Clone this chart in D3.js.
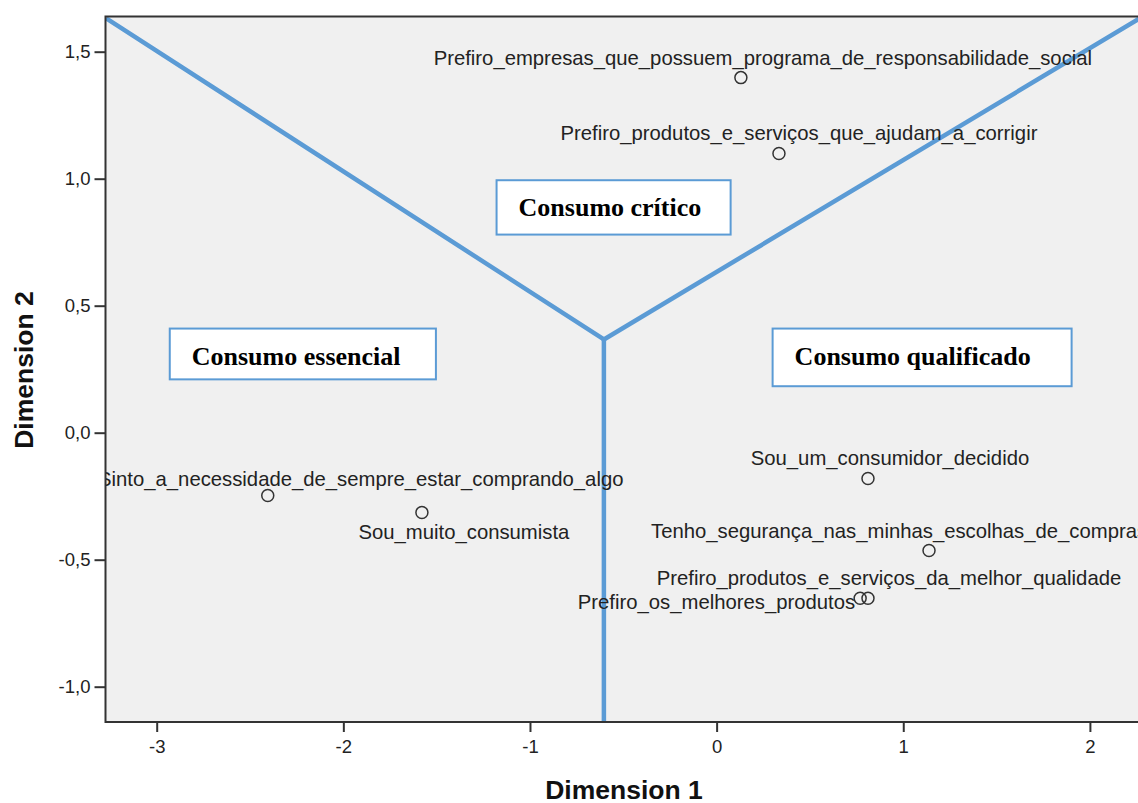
<!DOCTYPE html>
<html>
<head>
<meta charset="utf-8">
<script src="https://cdn.jsdelivr.net/npm/d3@7"></script>
<style>
  body { margin: 0; background: #fff; }
  svg { display: block; }
</style>
</head>
<body>
<script>
// data: coordenadas das categorias (Dimension 1, Dimension 2)
const labels = [
  'Prefiro_empresas_que_possuem_programa_de_responsabilidade_social',
  'Prefiro_produtos_e_serviços_que_ajudam_a_corrigir',
  'Sinto_a_necessidade_de_sempre_estar_comprando_algo',
  'Sou_muito_consumista',
  'Sou_um_consumidor_decidido',
  'Tenho_segurança_nas_minhas_escolhas_de_compras',
  'Prefiro_produtos_e_serviços_da_melhor_qualidade',
  'Prefiro_os_melhores_produtos'
]
const dim1 = [0.13, 0.334, -2.405, -1.579, 0.811, 1.138, 0.811, 0.769]
const dim2 = [1.398, 1.099, -0.247, -0.314, -0.180, -0.464, -0.652, -0.652]

const xTicks = [-3, -2, -1, 0, 1, 2]
const yTicks = [-1.0, -0.5, 0.0, 0.5, 1.0, 1.5]

// grupos (caixas de texto) e as linhas que separam as regiões
const groupNames = ['Consumo essencial', 'Consumo crítico', 'Consumo qualificado']
const groupX = [[-2.930, -1.504], [-1.179, 0.075], [0.300, 1.902]]
const groupY = [[0.410, 0.210], [0.994, 0.780], [0.410, 0.183]]

const vertex = [-0.604, 0.367]
const armEnds = [[-3.262, 1.627], [2.257, 1.627], [-0.604, -1.2]]

// layout van de labels: anchor, dx, dy (px)
const labelLayout = [
  ['middle', 22, -13],
  ['middle', 20, -14],
  ['middle', 93, -9],
  ['middle', 42, 27],
  ['middle', 22, -13],
  ['start', -278, -13],
  ['middle', 21, -13],
  ['end', -5, 11]
]

const W = 1138, H = 803
const plot = { left: 105.5, top: 16.5, right: 1146, bottom: 722 }

const svg = d3.select('body').append('svg').attr('width', W).attr('height', H)
  .style('font-family', 'Arial, "Liberation Sans", sans-serif')

const x = d3.scaleLinear().domain([-3, 2]).range([156.7, 1089.9])
const y = d3.scaleLinear().domain([-1, 1.5]).range([686.7, 51.7])

const fmt = d => d3.format('.1f')(d).replace('.', ',').replace('−', '-')

svg.append('defs').append('clipPath').attr('id', 'clip')
  .append('rect')
  .attr('x', plot.left).attr('y', plot.top)
  .attr('width', plot.right - plot.left).attr('height', plot.bottom - plot.top)

svg.append('rect')
  .attr('x', plot.left).attr('y', plot.top)
  .attr('width', plot.right - plot.left).attr('height', plot.bottom - plot.top)
  .attr('fill', '#f0f0f0')

// assen
const gx = svg.append('g').attr('transform', `translate(0,${plot.bottom})`)
  .call(d3.axisBottom(x).tickValues(xTicks).tickSize(10).tickPadding(8).tickFormat(d3.format('d')))
const gy = svg.append('g').attr('transform', `translate(${plot.left},0)`)
  .call(d3.axisLeft(y).tickValues(yTicks).tickSize(11).tickPadding(4).tickFormat(fmt))

gx.select('.domain').remove()
gy.select('.domain').remove()
gx.selectAll('.tick line').attr('stroke', '#333').attr('stroke-width', 2)
gy.selectAll('.tick line').attr('stroke', '#333').attr('stroke-width', 2)
gx.selectAll('.tick text').attr('font-size', 18.5).attr('fill', '#222')
  .attr('font-family', 'Arial, "Liberation Sans", sans-serif')
  .text(d => d3.format('d')(d).replace('−', '-'))
gy.selectAll('.tick text').attr('font-size', 18.5).attr('fill', '#222')
  .attr('font-family', 'Arial, "Liberation Sans", sans-serif')

const inner = svg.append('g').attr('clip-path', 'url(#clip)')

// lijnen (Y-vorm)
inner.selectAll('line.arm')
  .data(armEnds)
  .join('line')
  .attr('class', 'arm')
  .attr('x1', x(vertex[0])).attr('y1', y(vertex[1]))
  .attr('x2', d => x(d[0])).attr('y2', d => y(d[1]))
  .attr('stroke', '#5b9bd5').attr('stroke-width', 4.5).attr('stroke-linecap', 'round')

// caixas
const groups = inner.selectAll('g.group')
  .data(groupNames)
  .join('g')
  .attr('class', 'group')

groups.append('rect')
  .attr('x', (d, i) => x(groupX[i][0]))
  .attr('y', (d, i) => y(groupY[i][0]))
  .attr('width', (d, i) => x(groupX[i][1]) - x(groupX[i][0]))
  .attr('height', (d, i) => y(groupY[i][1]) - y(groupY[i][0]))
  .attr('fill', '#fff').attr('stroke', '#5b9bd5').attr('stroke-width', 2)

groups.append('text')
  .attr('x', (d, i) => x(groupX[i][0]) + 22)
  .attr('y', (d, i) => y(groupY[i][0]) + 36)
  .attr('font-family', '"Liberation Serif", "Times New Roman", serif')
  .attr('font-weight', 'bold').attr('font-size', 26)
  .attr('fill', '#000')
  .text(d => d)

// punten
inner.selectAll('circle.pt')
  .data(labels)
  .join('circle')
  .attr('class', 'pt')
  .attr('cx', (d, i) => x(dim1[i])).attr('cy', (d, i) => y(dim2[i]))
  .attr('r', 6).attr('fill', 'none').attr('stroke', '#333').attr('stroke-width', 1.5)

inner.selectAll('text.lbl')
  .data(labels)
  .join('text')
  .attr('class', 'lbl')
  .attr('x', (d, i) => x(dim1[i]) + labelLayout[i][1])
  .attr('y', (d, i) => y(dim2[i]) + labelLayout[i][2])
  .attr('text-anchor', (d, i) => labelLayout[i][0])
  .attr('font-size', 20.3).attr('fill', '#222')
  .text(d => d)

// rand
svg.append('rect')
  .attr('x', plot.left).attr('y', plot.top)
  .attr('width', plot.right - plot.left).attr('height', plot.bottom - plot.top)
  .attr('fill', 'none').attr('stroke', '#333').attr('stroke-width', 2)

// as titels
svg.append('text')
  .attr('x', 624).attr('y', 799)
  .attr('text-anchor', 'middle')
  .attr('font-weight', 'bold').attr('font-size', 26.5).attr('fill', '#111')
  .text('Dimension 1')

svg.append('text')
  .attr('transform', 'translate(33,370) rotate(-90)')
  .attr('text-anchor', 'middle')
  .attr('font-weight', 'bold').attr('font-size', 26.5).attr('fill', '#111')
  .text('Dimension 2')
</script>
</body>
</html>
